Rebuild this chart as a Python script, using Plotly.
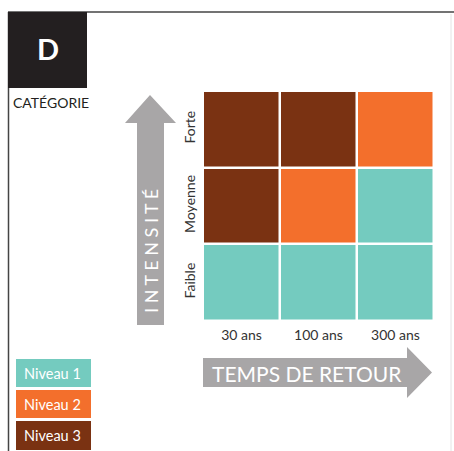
import plotly.graph_objects as go

W, H = 454, 451

# data
retour = ["30 ans", "100 ans", "300 ans"]
intensite = ["Faible", "Moyenne", "Forte"]
niveaux = [  # rows follow intensite (bottom to top)
    [1, 1, 1],
    [3, 2, 1],
    [3, 3, 2],
]
niveau_labels = ["Niveau 1", "Niveau 2", "Niveau 3"]
niveau_colors = ["#74CBBF", "#F36F2C", "#7A3212"]

FONT = "Lato, 'Open Sans', sans-serif"
GREY = "#A8A6A7"


def px(x):
    return x / W


def py(y):
    return 1 - y / H


def path(points):
    return "M " + " L ".join(f"{px(x):.5f},{py(y):.5f}" for x, y in points) + " Z"


colorscale = [
    [0.0, niveau_colors[0]], [1 / 3, niveau_colors[0]],
    [1 / 3, niveau_colors[1]], [2 / 3, niveau_colors[1]],
    [2 / 3, niveau_colors[2]], [1.0, niveau_colors[2]],
]

fig = go.Figure(go.Heatmap(
    z=niveaux, x=retour, y=intensite,
    colorscale=colorscale, zmin=0.5, zmax=3.5,
    xgap=2.5, ygap=2.5, showscale=False, hoverinfo="skip",
))

shapes = [
    # frame
    dict(type="line", xref="paper", yref="paper", x0=px(8), x1=px(454), y0=py(12), y1=py(12),
         line=dict(color="#444444", width=1.5)),
    dict(type="line", xref="paper", yref="paper", x0=px(8.5), x1=px(8.5), y0=py(12), y1=py(451),
         line=dict(color="#444444", width=1.5)),
    dict(type="line", xref="paper", yref="paper", x0=px(451), x1=px(451), y0=py(14), y1=py(451),
         line=dict(color="#E4E4E4", width=1)),
    # category box
    dict(type="rect", xref="paper", yref="paper", x0=px(8), x1=px(87), y0=py(12), y1=py(88),
         fillcolor="#231F20", line_width=0),
    # vertical arrow
    dict(type="path", xref="paper", yref="paper",
         path=path([(137, 325), (137, 123), (125, 123), (150, 95), (176, 123), (164, 123), (164, 325)]),
         fillcolor=GREY, line_width=0),
    # horizontal arrow
    dict(type="path", xref="paper", yref="paper",
         path=path([(203, 358), (407, 358), (407, 347), (432, 372.5), (407, 398), (407, 387), (203, 387)]),
         fillcolor=GREY, line_width=0),
]

annotations = [
    dict(text="<b>D</b>", x=px(47.5), y=py(48), font=dict(size=29, color="white", family=FONT)),
    dict(text="CATÉGORIE", x=px(11), y=py(102), xanchor="left",
         font=dict(size=14, color="#231F20", family=FONT)),
    dict(text="I N T E N S I T É", x=px(151), y=py(251), textangle=-90,
         font=dict(size=18, color="white", family=FONT)),
    dict(text="TEMPS DE RETOUR", x=px(307), y=py(373),
         font=dict(size=21, color="white", family=FONT)),
]

legend_y = [(359, 387), (390, 418), (421, 450)]
for (y0, y1), label, color in zip(legend_y, niveau_labels, niveau_colors):
    shapes.append(dict(type="rect", xref="paper", yref="paper", x0=px(16), x1=px(91),
                       y0=py(y0), y1=py(y1), fillcolor=color, line_width=0))
    annotations.append(dict(text=label, x=px(52), y=py((y0 + y1) / 2),
                            font=dict(size=14.5, color="white", family=FONT)))

for a in annotations:
    a.setdefault("xanchor", "center")
    a.update(xref="paper", yref="paper", yanchor="middle", showarrow=False)

fig.update_layout(
    width=W, height=H,
    margin=dict(l=0, r=0, t=0, b=0),
    paper_bgcolor="white", plot_bgcolor="white",
    shapes=shapes, annotations=annotations,
    xaxis=dict(domain=[px(203), px(434)], showgrid=False, zeroline=False, showline=False,
               ticks="", tickfont=dict(size=14, color="#333333", family=FONT),
               ticklabelstandoff=4, fixedrange=True),
    yaxis=dict(domain=[py(321), py(91)], showgrid=False, zeroline=False, showline=False,
               ticks="", tickangle=-90, tickfont=dict(size=14, color="#333333", family=FONT),
               ticklabelstandoff=4, fixedrange=True),
)

fig.write_html("out.html", config={"displayModeBar": False},
               post_script="document.body.style.margin='0';")
